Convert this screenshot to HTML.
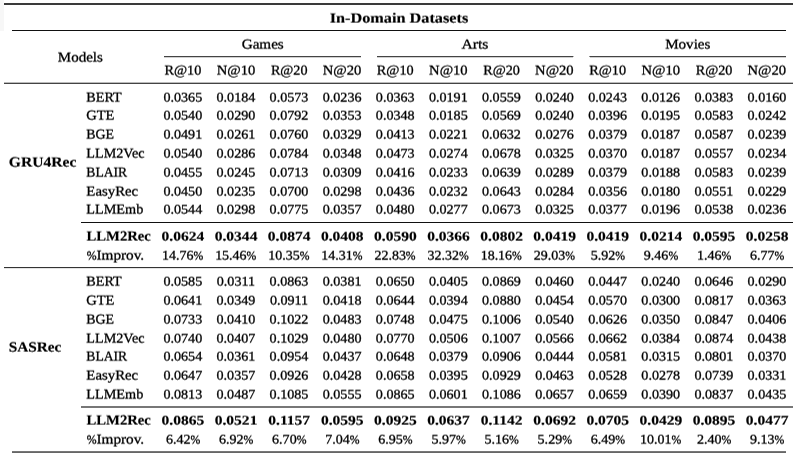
<!DOCTYPE html>
<html><head><meta charset="utf-8"><title>In-Domain Datasets</title>
<style>
html,body{margin:0;padding:0;background:#fff;}
body{width:793px;height:457px;overflow:hidden;position:relative;font-family:"Liberation Serif","DejaVu Serif",serif;font-size:13.3px;color:#000;}
.t{position:absolute;left:0;white-space:nowrap;line-height:16px;height:16px;text-rendering:geometricPrecision;-webkit-text-stroke:0.3px #000;transform-origin:0 50%;}
.L{font-size:13.8px;}
.b{font-weight:bold;-webkit-text-stroke-width:0.15px;}
.L.b{font-size:14.2px;}
.P{font-size:12.37px;}
.Q{font-size:12.42px;}
.r{position:absolute;height:1px;}
#txt{position:absolute;left:0;top:0;width:793px;height:457px;}
</style></head><body>
<div class="r" style="left:0;top:0;width:4px;height:31px;background:#f7f7f7"></div>
<div class="r" style="left:4px;width:789px;top:3px;background:#3a3a3a"></div>
<div class="r" style="left:4px;width:789px;top:4px;background:#3a3a3a"></div>
<div class="r" style="left:12px;width:774px;top:30px;background:#111"></div>
<div class="r" style="left:4px;width:789px;top:82px;background:#bbb"></div>
<div class="r" style="left:4px;width:789px;top:83px;background:#444"></div>
<div class="r" style="left:81px;width:712px;top:222px;background:#111"></div>
<div class="r" style="left:4px;width:789px;top:267px;background:#333"></div>
<div class="r" style="left:4px;width:789px;top:268px;background:#e4e4e4"></div>
<div class="r" style="left:81px;width:712px;top:406px;background:#777"></div>
<div class="r" style="left:81px;width:712px;top:407px;background:#777"></div>
<div class="r" style="left:12px;width:774px;top:451px;background:#777"></div>
<div class="r" style="left:12px;width:774px;top:452px;background:#666"></div>
<div class="r" style="left:164px;width:197px;top:56px;background:#444"></div>
<div class="r" style="left:164px;width:197px;top:57px;background:#d0d0d0"></div>
<div class="r" style="left:377px;width:196px;top:56px;background:#444"></div>
<div class="r" style="left:377px;width:196px;top:57px;background:#d0d0d0"></div>
<div class="r" style="left:590px;width:196px;top:56px;background:#444"></div>
<div class="r" style="left:590px;width:196px;top:57px;background:#d0d0d0"></div>
<div class="r" style="left:573px;width:1px;top:56px;background:#b5b5b5"></div>
<div class="r" style="left:589px;width:1px;top:56px;background:#8e8e8e"></div>
<svg width="0" height="0" style="position:absolute"><defs><filter id="sub" x="0" y="0" width="100%" height="100%" color-interpolation-filters="sRGB"><feConvolveMatrix order="1 4" kernelMatrix="-0.048 0.424 0.696 -0.072" targetX="0" targetY="1" divisor="1" edgeMode="none" preserveAlpha="false"/></filter></defs></svg>
<div id="txt" style="filter:url(#sub)">
<span class="t L b" style="top:11px;transform:translateX(329.67px) scaleX(1.1456)">In-Domain Datasets</span>
<span class="t L" style="top:50px;transform:translateX(57.83px) scaleX(1.0871)">Models</span>
<span class="t L" style="top:37px;transform:translateX(241.69px) scaleX(1.0977)">Games</span>
<span class="t L" style="top:37px;transform:translateX(461.40px) scaleX(1.1380)">Arts</span>
<span class="t L" style="top:37px;transform:translateX(665.13px) scaleX(1.0945)">Movies</span>
<span class="t L" style="top:63px;transform:translateX(164.44px) scaleX(1.0306)">R@10</span>
<span class="t L" style="top:63px;transform:translateX(216.69px) scaleX(1.0564)">N@10</span>
<span class="t L" style="top:63px;transform:translateX(270.90px) scaleX(1.0249)">R@20</span>
<span class="t L" style="top:63px;transform:translateX(322.70px) scaleX(1.0564)">N@20</span>
<span class="t L" style="top:63px;transform:translateX(376.86px) scaleX(1.0306)">R@10</span>
<span class="t L" style="top:63px;transform:translateX(429.11px) scaleX(1.0564)">N@10</span>
<span class="t L" style="top:63px;transform:translateX(483.32px) scaleX(1.0249)">R@20</span>
<span class="t L" style="top:63px;transform:translateX(535.12px) scaleX(1.0564)">N@20</span>
<span class="t L" style="top:63px;transform:translateX(589.28px) scaleX(1.0306)">R@10</span>
<span class="t L" style="top:63px;transform:translateX(641.53px) scaleX(1.0564)">N@10</span>
<span class="t L" style="top:63px;transform:translateX(695.74px) scaleX(1.0249)">R@20</span>
<span class="t L" style="top:63px;transform:translateX(747.54px) scaleX(1.0564)">N@20</span>
<span class="t L" style="top:90px;transform:translateX(86.34px) scaleX(1.0256)">BERT</span>
<span class="t" style="top:90px;transform:translateX(163.41px) scaleX(1.0601)">0.0365</span>
<span class="t" style="top:90px;transform:translateX(216.52px) scaleX(1.0601)">0.0184</span>
<span class="t" style="top:90px;transform:translateX(269.62px) scaleX(1.0601)">0.0573</span>
<span class="t" style="top:90px;transform:translateX(322.73px) scaleX(1.0601)">0.0236</span>
<span class="t" style="top:90px;transform:translateX(375.83px) scaleX(1.0601)">0.0363</span>
<span class="t" style="top:90px;transform:translateX(428.94px) scaleX(1.0601)">0.0191</span>
<span class="t" style="top:90px;transform:translateX(482.04px) scaleX(1.0601)">0.0559</span>
<span class="t" style="top:90px;transform:translateX(535.15px) scaleX(1.0601)">0.0240</span>
<span class="t" style="top:90px;transform:translateX(588.25px) scaleX(1.0601)">0.0243</span>
<span class="t" style="top:90px;transform:translateX(641.36px) scaleX(1.0601)">0.0126</span>
<span class="t" style="top:90px;transform:translateX(694.46px) scaleX(1.0601)">0.0383</span>
<span class="t" style="top:90px;transform:translateX(747.57px) scaleX(1.0601)">0.0160</span>
<span class="t L" style="top:108px;transform:translateX(86.21px) scaleX(1.0512)">GTE</span>
<span class="t" style="top:108px;transform:translateX(163.41px) scaleX(1.0601)">0.0540</span>
<span class="t" style="top:108px;transform:translateX(216.52px) scaleX(1.0601)">0.0290</span>
<span class="t" style="top:108px;transform:translateX(269.62px) scaleX(1.0601)">0.0792</span>
<span class="t" style="top:108px;transform:translateX(322.73px) scaleX(1.0601)">0.0353</span>
<span class="t" style="top:108px;transform:translateX(375.83px) scaleX(1.0601)">0.0348</span>
<span class="t" style="top:108px;transform:translateX(428.94px) scaleX(1.0601)">0.0185</span>
<span class="t" style="top:108px;transform:translateX(482.04px) scaleX(1.0601)">0.0569</span>
<span class="t" style="top:108px;transform:translateX(535.15px) scaleX(1.0601)">0.0240</span>
<span class="t" style="top:108px;transform:translateX(588.25px) scaleX(1.0601)">0.0396</span>
<span class="t" style="top:108px;transform:translateX(641.36px) scaleX(1.0601)">0.0195</span>
<span class="t" style="top:108px;transform:translateX(694.46px) scaleX(1.0601)">0.0583</span>
<span class="t" style="top:108px;transform:translateX(747.57px) scaleX(1.0601)">0.0242</span>
<span class="t L" style="top:127px;transform:translateX(86.35px) scaleX(1.0056)">BGE</span>
<span class="t" style="top:127px;transform:translateX(163.41px) scaleX(1.0601)">0.0491</span>
<span class="t" style="top:127px;transform:translateX(216.52px) scaleX(1.0601)">0.0261</span>
<span class="t" style="top:127px;transform:translateX(269.62px) scaleX(1.0601)">0.0760</span>
<span class="t" style="top:127px;transform:translateX(322.73px) scaleX(1.0601)">0.0329</span>
<span class="t" style="top:127px;transform:translateX(375.83px) scaleX(1.0601)">0.0413</span>
<span class="t" style="top:127px;transform:translateX(428.94px) scaleX(1.0601)">0.0221</span>
<span class="t" style="top:127px;transform:translateX(482.04px) scaleX(1.0601)">0.0632</span>
<span class="t" style="top:127px;transform:translateX(535.15px) scaleX(1.0601)">0.0276</span>
<span class="t" style="top:127px;transform:translateX(588.25px) scaleX(1.0601)">0.0379</span>
<span class="t" style="top:127px;transform:translateX(641.36px) scaleX(1.0601)">0.0187</span>
<span class="t" style="top:127px;transform:translateX(694.46px) scaleX(1.0601)">0.0587</span>
<span class="t" style="top:127px;transform:translateX(747.57px) scaleX(1.0601)">0.0239</span>
<span class="t L" style="top:146px;transform:translateX(86.34px) scaleX(1.0258)">LLM2Vec</span>
<span class="t" style="top:146px;transform:translateX(163.41px) scaleX(1.0601)">0.0540</span>
<span class="t" style="top:146px;transform:translateX(216.52px) scaleX(1.0601)">0.0286</span>
<span class="t" style="top:146px;transform:translateX(269.62px) scaleX(1.0601)">0.0784</span>
<span class="t" style="top:146px;transform:translateX(322.73px) scaleX(1.0601)">0.0348</span>
<span class="t" style="top:146px;transform:translateX(375.83px) scaleX(1.0601)">0.0473</span>
<span class="t" style="top:146px;transform:translateX(428.94px) scaleX(1.0601)">0.0274</span>
<span class="t" style="top:146px;transform:translateX(482.04px) scaleX(1.0601)">0.0678</span>
<span class="t" style="top:146px;transform:translateX(535.15px) scaleX(1.0601)">0.0325</span>
<span class="t" style="top:146px;transform:translateX(588.25px) scaleX(1.0601)">0.0370</span>
<span class="t" style="top:146px;transform:translateX(641.36px) scaleX(1.0601)">0.0187</span>
<span class="t" style="top:146px;transform:translateX(694.46px) scaleX(1.0601)">0.0557</span>
<span class="t" style="top:146px;transform:translateX(747.57px) scaleX(1.0601)">0.0234</span>
<span class="t L" style="top:165px;transform:translateX(86.35px) scaleX(0.9867)">BLAIR</span>
<span class="t" style="top:165px;transform:translateX(163.41px) scaleX(1.0601)">0.0455</span>
<span class="t" style="top:165px;transform:translateX(216.52px) scaleX(1.0601)">0.0245</span>
<span class="t" style="top:165px;transform:translateX(269.62px) scaleX(1.0601)">0.0713</span>
<span class="t" style="top:165px;transform:translateX(322.73px) scaleX(1.0601)">0.0309</span>
<span class="t" style="top:165px;transform:translateX(375.83px) scaleX(1.0601)">0.0416</span>
<span class="t" style="top:165px;transform:translateX(428.94px) scaleX(1.0601)">0.0233</span>
<span class="t" style="top:165px;transform:translateX(482.04px) scaleX(1.0601)">0.0639</span>
<span class="t" style="top:165px;transform:translateX(535.15px) scaleX(1.0601)">0.0289</span>
<span class="t" style="top:165px;transform:translateX(588.25px) scaleX(1.0601)">0.0379</span>
<span class="t" style="top:165px;transform:translateX(641.36px) scaleX(1.0601)">0.0188</span>
<span class="t" style="top:165px;transform:translateX(694.46px) scaleX(1.0601)">0.0583</span>
<span class="t" style="top:165px;transform:translateX(747.57px) scaleX(1.0601)">0.0239</span>
<span class="t L" style="top:184px;transform:translateX(86.33px) scaleX(1.0743)">EasyRec</span>
<span class="t" style="top:184px;transform:translateX(163.41px) scaleX(1.0601)">0.0450</span>
<span class="t" style="top:184px;transform:translateX(216.52px) scaleX(1.0601)">0.0235</span>
<span class="t" style="top:184px;transform:translateX(269.62px) scaleX(1.0601)">0.0700</span>
<span class="t" style="top:184px;transform:translateX(322.73px) scaleX(1.0601)">0.0298</span>
<span class="t" style="top:184px;transform:translateX(375.83px) scaleX(1.0601)">0.0436</span>
<span class="t" style="top:184px;transform:translateX(428.94px) scaleX(1.0601)">0.0232</span>
<span class="t" style="top:184px;transform:translateX(482.04px) scaleX(1.0601)">0.0643</span>
<span class="t" style="top:184px;transform:translateX(535.15px) scaleX(1.0601)">0.0284</span>
<span class="t" style="top:184px;transform:translateX(588.25px) scaleX(1.0601)">0.0356</span>
<span class="t" style="top:184px;transform:translateX(641.36px) scaleX(1.0601)">0.0180</span>
<span class="t" style="top:184px;transform:translateX(694.46px) scaleX(1.0601)">0.0551</span>
<span class="t" style="top:184px;transform:translateX(747.57px) scaleX(1.0601)">0.0229</span>
<span class="t L" style="top:202px;transform:translateX(86.34px) scaleX(1.0312)">LLMEmb</span>
<span class="t" style="top:202px;transform:translateX(163.41px) scaleX(1.0601)">0.0544</span>
<span class="t" style="top:202px;transform:translateX(216.52px) scaleX(1.0601)">0.0298</span>
<span class="t" style="top:202px;transform:translateX(269.62px) scaleX(1.0601)">0.0775</span>
<span class="t" style="top:202px;transform:translateX(322.73px) scaleX(1.0601)">0.0357</span>
<span class="t" style="top:202px;transform:translateX(375.83px) scaleX(1.0601)">0.0480</span>
<span class="t" style="top:202px;transform:translateX(428.94px) scaleX(1.0601)">0.0277</span>
<span class="t" style="top:202px;transform:translateX(482.04px) scaleX(1.0601)">0.0673</span>
<span class="t" style="top:202px;transform:translateX(535.15px) scaleX(1.0601)">0.0325</span>
<span class="t" style="top:202px;transform:translateX(588.25px) scaleX(1.0601)">0.0377</span>
<span class="t" style="top:202px;transform:translateX(641.36px) scaleX(1.0601)">0.0196</span>
<span class="t" style="top:202px;transform:translateX(694.46px) scaleX(1.0601)">0.0538</span>
<span class="t" style="top:202px;transform:translateX(747.57px) scaleX(1.0601)">0.0236</span>
<span class="t L b" style="top:229px;transform:translateX(86.47px) scaleX(1.0343)">LLM2Rec</span>
<span class="t b" style="top:229px;transform:translateX(161.61px) scaleX(1.1667)">0.0624</span>
<span class="t b" style="top:229px;transform:translateX(214.72px) scaleX(1.1667)">0.0344</span>
<span class="t b" style="top:229px;transform:translateX(267.82px) scaleX(1.1667)">0.0874</span>
<span class="t b" style="top:229px;transform:translateX(320.93px) scaleX(1.1667)">0.0408</span>
<span class="t b" style="top:229px;transform:translateX(374.03px) scaleX(1.1667)">0.0590</span>
<span class="t b" style="top:229px;transform:translateX(427.14px) scaleX(1.1667)">0.0366</span>
<span class="t b" style="top:229px;transform:translateX(480.24px) scaleX(1.1667)">0.0802</span>
<span class="t b" style="top:229px;transform:translateX(533.35px) scaleX(1.1667)">0.0419</span>
<span class="t b" style="top:229px;transform:translateX(586.45px) scaleX(1.1667)">0.0419</span>
<span class="t b" style="top:229px;transform:translateX(639.56px) scaleX(1.1667)">0.0214</span>
<span class="t b" style="top:229px;transform:translateX(692.66px) scaleX(1.1667)">0.0595</span>
<span class="t b" style="top:229px;transform:translateX(745.77px) scaleX(1.1667)">0.0258</span>
<span class="t Q" style="top:248px;transform:translateX(86.66px) scaleX(0.9500)">%</span><span class="t L" style="top:248px;transform:translateX(96.49px) scaleX(1.1047)">Improv.</span>
<span class="t" style="top:248px;transform:translateX(162.04px) scaleX(1.0495)">14.76</span><span class="t P" style="top:248px;transform:translateX(193.44px) scaleX(0.9446)">%</span>
<span class="t" style="top:248px;transform:translateX(215.14px) scaleX(1.0495)">15.46</span><span class="t P" style="top:248px;transform:translateX(246.54px) scaleX(0.9446)">%</span>
<span class="t" style="top:248px;transform:translateX(268.25px) scaleX(1.0495)">10.35</span><span class="t P" style="top:248px;transform:translateX(299.65px) scaleX(0.9446)">%</span>
<span class="t" style="top:248px;transform:translateX(321.35px) scaleX(1.0495)">14.31</span><span class="t P" style="top:248px;transform:translateX(352.75px) scaleX(0.9446)">%</span>
<span class="t" style="top:248px;transform:translateX(374.46px) scaleX(1.0495)">22.83</span><span class="t P" style="top:248px;transform:translateX(405.86px) scaleX(0.9446)">%</span>
<span class="t" style="top:248px;transform:translateX(427.56px) scaleX(1.0495)">32.32</span><span class="t P" style="top:248px;transform:translateX(458.96px) scaleX(0.9446)">%</span>
<span class="t" style="top:248px;transform:translateX(480.67px) scaleX(1.0495)">18.16</span><span class="t P" style="top:248px;transform:translateX(512.07px) scaleX(0.9446)">%</span>
<span class="t" style="top:248px;transform:translateX(533.77px) scaleX(1.0495)">29.03</span><span class="t P" style="top:248px;transform:translateX(565.17px) scaleX(0.9446)">%</span>
<span class="t" style="top:248px;transform:translateX(590.72px) scaleX(1.0551)">5.92</span><span class="t P" style="top:248px;transform:translateX(615.28px) scaleX(0.9496)">%</span>
<span class="t" style="top:248px;transform:translateX(643.82px) scaleX(1.0551)">9.46</span><span class="t P" style="top:248px;transform:translateX(668.39px) scaleX(0.9496)">%</span>
<span class="t" style="top:248px;transform:translateX(696.93px) scaleX(1.0551)">1.46</span><span class="t P" style="top:248px;transform:translateX(721.49px) scaleX(0.9496)">%</span>
<span class="t" style="top:248px;transform:translateX(750.03px) scaleX(1.0551)">6.77</span><span class="t P" style="top:248px;transform:translateX(774.60px) scaleX(0.9496)">%</span>
<span class="t L b" style="top:155px;transform:translateX(8.86px) scaleX(1.0992)">GRU4Rec</span>
<span class="t L" style="top:274px;transform:translateX(86.34px) scaleX(1.0256)">BERT</span>
<span class="t" style="top:274px;transform:translateX(163.41px) scaleX(1.0601)">0.0585</span>
<span class="t" style="top:274px;transform:translateX(216.78px) scaleX(1.0601)">0.0311</span>
<span class="t" style="top:274px;transform:translateX(269.62px) scaleX(1.0601)">0.0863</span>
<span class="t" style="top:274px;transform:translateX(322.73px) scaleX(1.0601)">0.0381</span>
<span class="t" style="top:274px;transform:translateX(375.83px) scaleX(1.0601)">0.0650</span>
<span class="t" style="top:274px;transform:translateX(428.94px) scaleX(1.0601)">0.0405</span>
<span class="t" style="top:274px;transform:translateX(482.04px) scaleX(1.0601)">0.0869</span>
<span class="t" style="top:274px;transform:translateX(535.15px) scaleX(1.0601)">0.0460</span>
<span class="t" style="top:274px;transform:translateX(588.25px) scaleX(1.0601)">0.0447</span>
<span class="t" style="top:274px;transform:translateX(641.36px) scaleX(1.0601)">0.0240</span>
<span class="t" style="top:274px;transform:translateX(694.46px) scaleX(1.0601)">0.0646</span>
<span class="t" style="top:274px;transform:translateX(747.57px) scaleX(1.0601)">0.0290</span>
<span class="t L" style="top:293px;transform:translateX(86.21px) scaleX(1.0512)">GTE</span>
<span class="t" style="top:293px;transform:translateX(163.41px) scaleX(1.0601)">0.0641</span>
<span class="t" style="top:293px;transform:translateX(216.52px) scaleX(1.0601)">0.0349</span>
<span class="t" style="top:293px;transform:translateX(269.89px) scaleX(1.0601)">0.0911</span>
<span class="t" style="top:293px;transform:translateX(322.73px) scaleX(1.0601)">0.0418</span>
<span class="t" style="top:293px;transform:translateX(375.83px) scaleX(1.0601)">0.0644</span>
<span class="t" style="top:293px;transform:translateX(428.94px) scaleX(1.0601)">0.0394</span>
<span class="t" style="top:293px;transform:translateX(482.04px) scaleX(1.0601)">0.0880</span>
<span class="t" style="top:293px;transform:translateX(535.15px) scaleX(1.0601)">0.0454</span>
<span class="t" style="top:293px;transform:translateX(588.25px) scaleX(1.0601)">0.0570</span>
<span class="t" style="top:293px;transform:translateX(641.36px) scaleX(1.0601)">0.0300</span>
<span class="t" style="top:293px;transform:translateX(694.46px) scaleX(1.0601)">0.0817</span>
<span class="t" style="top:293px;transform:translateX(747.57px) scaleX(1.0601)">0.0363</span>
<span class="t L" style="top:312px;transform:translateX(86.35px) scaleX(1.0056)">BGE</span>
<span class="t" style="top:312px;transform:translateX(163.41px) scaleX(1.0601)">0.0733</span>
<span class="t" style="top:312px;transform:translateX(216.52px) scaleX(1.0601)">0.0410</span>
<span class="t" style="top:312px;transform:translateX(269.62px) scaleX(1.0601)">0.1022</span>
<span class="t" style="top:312px;transform:translateX(322.73px) scaleX(1.0601)">0.0483</span>
<span class="t" style="top:312px;transform:translateX(375.83px) scaleX(1.0601)">0.0748</span>
<span class="t" style="top:312px;transform:translateX(428.94px) scaleX(1.0601)">0.0475</span>
<span class="t" style="top:312px;transform:translateX(482.04px) scaleX(1.0601)">0.1006</span>
<span class="t" style="top:312px;transform:translateX(535.15px) scaleX(1.0601)">0.0540</span>
<span class="t" style="top:312px;transform:translateX(588.25px) scaleX(1.0601)">0.0626</span>
<span class="t" style="top:312px;transform:translateX(641.36px) scaleX(1.0601)">0.0350</span>
<span class="t" style="top:312px;transform:translateX(694.46px) scaleX(1.0601)">0.0847</span>
<span class="t" style="top:312px;transform:translateX(747.57px) scaleX(1.0601)">0.0406</span>
<span class="t L" style="top:331px;transform:translateX(86.34px) scaleX(1.0258)">LLM2Vec</span>
<span class="t" style="top:331px;transform:translateX(163.41px) scaleX(1.0601)">0.0740</span>
<span class="t" style="top:331px;transform:translateX(216.52px) scaleX(1.0601)">0.0407</span>
<span class="t" style="top:331px;transform:translateX(269.62px) scaleX(1.0601)">0.1029</span>
<span class="t" style="top:331px;transform:translateX(322.73px) scaleX(1.0601)">0.0480</span>
<span class="t" style="top:331px;transform:translateX(375.83px) scaleX(1.0601)">0.0770</span>
<span class="t" style="top:331px;transform:translateX(428.94px) scaleX(1.0601)">0.0506</span>
<span class="t" style="top:331px;transform:translateX(482.04px) scaleX(1.0601)">0.1007</span>
<span class="t" style="top:331px;transform:translateX(535.15px) scaleX(1.0601)">0.0566</span>
<span class="t" style="top:331px;transform:translateX(588.25px) scaleX(1.0601)">0.0662</span>
<span class="t" style="top:331px;transform:translateX(641.36px) scaleX(1.0601)">0.0384</span>
<span class="t" style="top:331px;transform:translateX(694.46px) scaleX(1.0601)">0.0874</span>
<span class="t" style="top:331px;transform:translateX(747.57px) scaleX(1.0601)">0.0438</span>
<span class="t L" style="top:349px;transform:translateX(86.35px) scaleX(0.9867)">BLAIR</span>
<span class="t" style="top:349px;transform:translateX(163.41px) scaleX(1.0601)">0.0654</span>
<span class="t" style="top:349px;transform:translateX(216.52px) scaleX(1.0601)">0.0361</span>
<span class="t" style="top:349px;transform:translateX(269.62px) scaleX(1.0601)">0.0954</span>
<span class="t" style="top:349px;transform:translateX(322.73px) scaleX(1.0601)">0.0437</span>
<span class="t" style="top:349px;transform:translateX(375.83px) scaleX(1.0601)">0.0648</span>
<span class="t" style="top:349px;transform:translateX(428.94px) scaleX(1.0601)">0.0379</span>
<span class="t" style="top:349px;transform:translateX(482.04px) scaleX(1.0601)">0.0906</span>
<span class="t" style="top:349px;transform:translateX(535.15px) scaleX(1.0601)">0.0444</span>
<span class="t" style="top:349px;transform:translateX(588.25px) scaleX(1.0601)">0.0581</span>
<span class="t" style="top:349px;transform:translateX(641.36px) scaleX(1.0601)">0.0315</span>
<span class="t" style="top:349px;transform:translateX(694.46px) scaleX(1.0601)">0.0801</span>
<span class="t" style="top:349px;transform:translateX(747.57px) scaleX(1.0601)">0.0370</span>
<span class="t L" style="top:368px;transform:translateX(86.33px) scaleX(1.0743)">EasyRec</span>
<span class="t" style="top:368px;transform:translateX(163.41px) scaleX(1.0601)">0.0647</span>
<span class="t" style="top:368px;transform:translateX(216.52px) scaleX(1.0601)">0.0357</span>
<span class="t" style="top:368px;transform:translateX(269.62px) scaleX(1.0601)">0.0926</span>
<span class="t" style="top:368px;transform:translateX(322.73px) scaleX(1.0601)">0.0428</span>
<span class="t" style="top:368px;transform:translateX(375.83px) scaleX(1.0601)">0.0658</span>
<span class="t" style="top:368px;transform:translateX(428.94px) scaleX(1.0601)">0.0395</span>
<span class="t" style="top:368px;transform:translateX(482.04px) scaleX(1.0601)">0.0929</span>
<span class="t" style="top:368px;transform:translateX(535.15px) scaleX(1.0601)">0.0463</span>
<span class="t" style="top:368px;transform:translateX(588.25px) scaleX(1.0601)">0.0528</span>
<span class="t" style="top:368px;transform:translateX(641.36px) scaleX(1.0601)">0.0278</span>
<span class="t" style="top:368px;transform:translateX(694.46px) scaleX(1.0601)">0.0739</span>
<span class="t" style="top:368px;transform:translateX(747.57px) scaleX(1.0601)">0.0331</span>
<span class="t L" style="top:387px;transform:translateX(86.34px) scaleX(1.0312)">LLMEmb</span>
<span class="t" style="top:387px;transform:translateX(163.41px) scaleX(1.0601)">0.0813</span>
<span class="t" style="top:387px;transform:translateX(216.52px) scaleX(1.0601)">0.0487</span>
<span class="t" style="top:387px;transform:translateX(269.62px) scaleX(1.0601)">0.1085</span>
<span class="t" style="top:387px;transform:translateX(322.73px) scaleX(1.0601)">0.0555</span>
<span class="t" style="top:387px;transform:translateX(375.83px) scaleX(1.0601)">0.0865</span>
<span class="t" style="top:387px;transform:translateX(428.94px) scaleX(1.0601)">0.0601</span>
<span class="t" style="top:387px;transform:translateX(482.04px) scaleX(1.0601)">0.1086</span>
<span class="t" style="top:387px;transform:translateX(535.15px) scaleX(1.0601)">0.0657</span>
<span class="t" style="top:387px;transform:translateX(588.25px) scaleX(1.0601)">0.0659</span>
<span class="t" style="top:387px;transform:translateX(641.36px) scaleX(1.0601)">0.0390</span>
<span class="t" style="top:387px;transform:translateX(694.46px) scaleX(1.0601)">0.0837</span>
<span class="t" style="top:387px;transform:translateX(747.57px) scaleX(1.0601)">0.0435</span>
<span class="t L b" style="top:413px;transform:translateX(86.47px) scaleX(1.0343)">LLM2Rec</span>
<span class="t b" style="top:413px;transform:translateX(161.61px) scaleX(1.1667)">0.0865</span>
<span class="t b" style="top:413px;transform:translateX(214.72px) scaleX(1.1667)">0.0521</span>
<span class="t b" style="top:413px;transform:translateX(268.25px) scaleX(1.1667)">0.1157</span>
<span class="t b" style="top:413px;transform:translateX(320.93px) scaleX(1.1667)">0.0595</span>
<span class="t b" style="top:413px;transform:translateX(374.03px) scaleX(1.1667)">0.0925</span>
<span class="t b" style="top:413px;transform:translateX(427.14px) scaleX(1.1667)">0.0637</span>
<span class="t b" style="top:413px;transform:translateX(480.67px) scaleX(1.1667)">0.1142</span>
<span class="t b" style="top:413px;transform:translateX(533.35px) scaleX(1.1667)">0.0692</span>
<span class="t b" style="top:413px;transform:translateX(586.45px) scaleX(1.1667)">0.0705</span>
<span class="t b" style="top:413px;transform:translateX(639.56px) scaleX(1.1667)">0.0429</span>
<span class="t b" style="top:413px;transform:translateX(692.66px) scaleX(1.1667)">0.0895</span>
<span class="t b" style="top:413px;transform:translateX(745.77px) scaleX(1.1667)">0.0477</span>
<span class="t Q" style="top:432px;transform:translateX(86.66px) scaleX(0.9500)">%</span><span class="t L" style="top:432px;transform:translateX(96.49px) scaleX(1.1047)">Improv.</span>
<span class="t" style="top:432px;transform:translateX(165.88px) scaleX(1.0551)">6.42</span><span class="t P" style="top:432px;transform:translateX(190.44px) scaleX(0.9496)">%</span>
<span class="t" style="top:432px;transform:translateX(218.98px) scaleX(1.0551)">6.92</span><span class="t P" style="top:432px;transform:translateX(243.55px) scaleX(0.9496)">%</span>
<span class="t" style="top:432px;transform:translateX(272.09px) scaleX(1.0551)">6.70</span><span class="t P" style="top:432px;transform:translateX(296.65px) scaleX(0.9496)">%</span>
<span class="t" style="top:432px;transform:translateX(325.19px) scaleX(1.0551)">7.04</span><span class="t P" style="top:432px;transform:translateX(349.76px) scaleX(0.9496)">%</span>
<span class="t" style="top:432px;transform:translateX(378.30px) scaleX(1.0551)">6.95</span><span class="t P" style="top:432px;transform:translateX(402.86px) scaleX(0.9496)">%</span>
<span class="t" style="top:432px;transform:translateX(431.40px) scaleX(1.0551)">5.97</span><span class="t P" style="top:432px;transform:translateX(455.97px) scaleX(0.9496)">%</span>
<span class="t" style="top:432px;transform:translateX(484.51px) scaleX(1.0551)">5.16</span><span class="t P" style="top:432px;transform:translateX(509.07px) scaleX(0.9496)">%</span>
<span class="t" style="top:432px;transform:translateX(537.61px) scaleX(1.0551)">5.29</span><span class="t P" style="top:432px;transform:translateX(562.18px) scaleX(0.9496)">%</span>
<span class="t" style="top:432px;transform:translateX(590.72px) scaleX(1.0551)">6.49</span><span class="t P" style="top:432px;transform:translateX(615.28px) scaleX(0.9496)">%</span>
<span class="t" style="top:432px;transform:translateX(639.98px) scaleX(1.0495)">10.01</span><span class="t P" style="top:432px;transform:translateX(671.38px) scaleX(0.9446)">%</span>
<span class="t" style="top:432px;transform:translateX(696.93px) scaleX(1.0551)">2.40</span><span class="t P" style="top:432px;transform:translateX(721.49px) scaleX(0.9496)">%</span>
<span class="t" style="top:432px;transform:translateX(750.03px) scaleX(1.0551)">9.13</span><span class="t P" style="top:432px;transform:translateX(774.60px) scaleX(0.9496)">%</span>
<span class="t L b" style="top:340px;transform:translateX(8.68px) scaleX(1.0760)">SASRec</span>
</div>
</body></html>
